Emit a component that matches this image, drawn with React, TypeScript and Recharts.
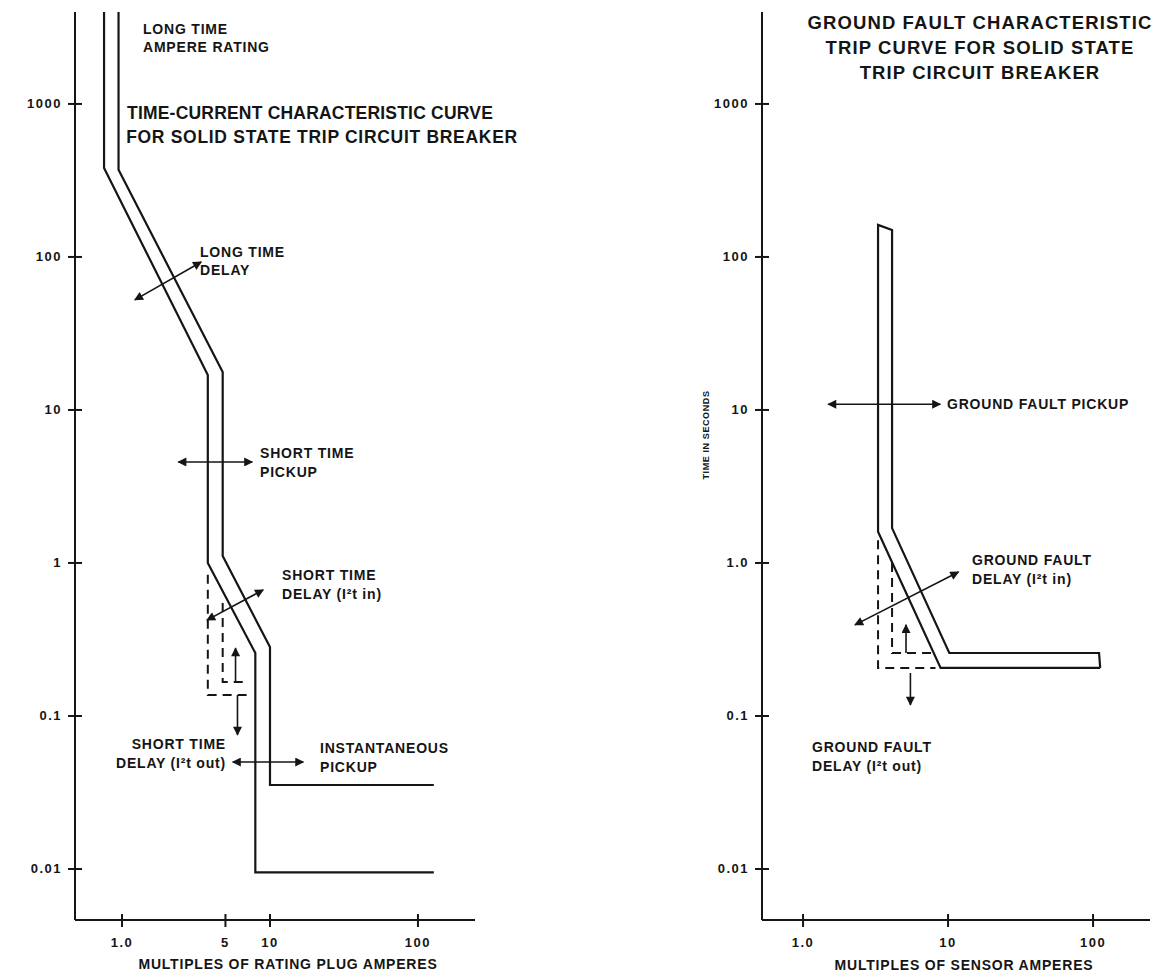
import React from "react";
import { LineChart, Line, XAxis, YAxis, ReferenceLine } from "recharts";

// solid state trip band (x = multiples of rating plug amperes, y = seconds)
const tripMinX = [0.756, 0.756, 3.8, 3.8, 7.96, 7.96, 128];
const tripMinY = [3990, 382, 16.9, 1.0, 0.258, 0.0095, 0.0095];
const tripMaxX = [0.947, 0.947, 4.79, 4.79, 10.0, 10.0, 128];
const tripMaxY = [3990, 371, 17.7, 1.11, 0.282, 0.0354, 0.0354];
// short time delay, I2t out (dashed)
const stOutX = [3.8, 3.8, 7.2];
const stOutY = [0.836, 0.137, 0.137];
const stOutInnerX = [4.79, 4.79, 6.7];
const stOutInnerY = [0.548, 0.167, 0.167];

// ground fault band (x = multiples of sensor amperes), drawn as one closed outline
const gfBandX = [112, 8.88, 3.29, 3.29, 4.11, 4.11, 10.2, 110, 112];
const gfBandY = [0.206, 0.206, 1.6, 162, 150, 1.69, 0.258, 0.258, 0.206];
const gfOutX = [3.29, 3.29, 8.19];
const gfOutY = [1.41, 0.206, 0.206];
const gfOutInnerX = [4.11, 4.11, 7.64];
const gfOutInnerY = [1.0, 0.258, 0.258];

const timeTicks = [0.01, 0.1, 1, 10, 100, 1000];
const leftTimeLabels = ["0.01", "0.1", "1", "10", "100", "1000"];
const rightTimeLabels = ["0.01", "0.1", "1.0", "10", "100", "1000"];
const plugTicks = [1, 5, 10, 100];
const plugLabels = ["1.0", "5", "10", "100"];
const sensorTicks = [1, 10, 100];
const sensorLabels = ["1.0", "10", "100"];

// annotation arrows [x1, y1, x2, y2, doubleHeaded]
const leftArrows: [number, number, number, number, boolean][] = [
  [1.22, 52.4, 3.43, 92.7, true],
  [2.4, 4.57, 7.59, 4.57, true],
  [3.75, 0.423, 9.0, 0.667, true],
  [5.85, 0.167, 5.85, 0.278, false],
  [6.03, 0.137, 6.03, 0.0752, false],
  [5.6, 0.05, 16.8, 0.05, true],
];
const rightArrows: [number, number, number, number, boolean][] = [
  [1.49, 10.9, 8.84, 10.9, true],
  [2.28, 0.394, 11.8, 0.873, true],
  [5.13, 0.258, 5.13, 0.394, false],
  [5.5, 0.191, 5.5, 0.118, false],
];

const zip = (xs: number[], ys: number[]) => xs.map((x, i) => ({ x, y: ys[i] }));

const font = '"Liberation Sans", Arial, Helvetica, sans-serif';
const ink = "#151515";
const yDomain = [0.00464, 3990];

const XTick = ({ x, y, payload, ticks, labels }: any) => {
  const label = labels[ticks.indexOf(payload.value)];
  return (
    <g>
      <line x1={x} x2={x} y1={y - 6} y2={y + 7} stroke={ink} strokeWidth={2} />
      <text x={x} y={y + 22} textAnchor="middle" dominantBaseline="central" fontFamily={font} fontWeight={700} fontSize={13} letterSpacing={1.5} fill={ink}>
        {label}
      </text>
    </g>
  );
};

const YTick = ({ x, y, payload, labels }: any) => {
  const label = labels[timeTicks.indexOf(payload.value)];
  return (
    <g>
      <line x1={x - 7} x2={x + 7} y1={y} y2={y} stroke={ink} strokeWidth={2} />
      <text x={x - 13} y={y} textAnchor="end" dominantBaseline="central" fontFamily={font} fontWeight={700} fontSize={13} letterSpacing={1.5} fill={ink}>
        {label}
      </text>
    </g>
  );
};

const Note = ({ x, y, lines, align = "left", size = 14, spacing = 0.8, weight = 700, lh = 19 }: any) => {
  const tx = align === "center" ? "translateX(-50%)" : align === "right" ? "translateX(-100%)" : "none";
  return (
    <div
      style={{
        position: "absolute",
        left: x,
        top: y - lh / 2,
        transform: tx,
        textAlign: align,
        fontFamily: font,
        fontWeight: weight,
        fontSize: size,
        letterSpacing: spacing,
        lineHeight: `${lh}px`,
        whiteSpace: "nowrap",
        color: ink,
      }}
    >
      {lines.map((l: string, i: number) => (
        <div key={i}>{l}</div>
      ))}
    </div>
  );
};

const TripChart = ({ left, width, margin, xDomain, xTicks, xLabels, yLabels, solid, dashed, arrows }: any) => (
  <div style={{ position: "absolute", left, top: 0 }}>
    <LineChart width={width} height={975} margin={margin}>
      <XAxis
        dataKey="x"
        type="number"
        scale="log"
        domain={xDomain}
        allowDataOverflow
        ticks={xTicks}
        interval={0}
        tickSize={0}
        tickMargin={0}
        tickLine={false}
        height={30}
        axisLine={{ stroke: ink, strokeWidth: 2 }}
        tick={(p: any) => <XTick {...p} ticks={xTicks} labels={xLabels} />}
      />
      <YAxis
        dataKey="y"
        type="number"
        scale="log"
        domain={yDomain}
        allowDataOverflow
        ticks={timeTicks}
        interval={0}
        tickSize={0}
        tickMargin={0}
        tickLine={false}
        width={60}
        axisLine={{ stroke: ink, strokeWidth: 2 }}
        tick={(p: any) => <YTick {...p} labels={yLabels} />}
      />
      {solid.map((pts: any, i: number) => (
        <Line key={`s${i}`} data={pts} dataKey="y" type="linear" stroke={ink} strokeWidth={2.2} dot={false} activeDot={false} isAnimationActive={false} />
      ))}
      {dashed.map((pts: any, i: number) => (
        <Line key={`d${i}`} data={pts} dataKey="y" type="linear" stroke={ink} strokeWidth={2} strokeDasharray="9 6" dot={false} activeDot={false} isAnimationActive={false} />
      ))}
      {arrows.map((a: any, i: number) => (
        <ReferenceLine
          key={`a${i}`}
          segment={[{ x: a[0], y: a[1] }, { x: a[2], y: a[3] }]}
          stroke={ink}
          strokeWidth={1.6}
          markerEnd="url(#ah)"
          markerStart={a[4] ? "url(#ah)" : undefined}
          ifOverflow="visible"
        />
      ))}
    </LineChart>
  </div>
);

export default function App() {
  return (
    <div style={{ position: "absolute", left: 0, top: 0, width: 1163, height: 975, background: "#fff", overflow: "hidden" }}>
      <svg width="0" height="0" style={{ position: "absolute" }}>
        <defs>
          <marker id="ah" viewBox="0 0 10 10" refX="9" refY="5" markerWidth="12" markerHeight="9" markerUnits="userSpaceOnUse" orient="auto-start-reverse">
            <path d="M0,0 L10,5 L0,10 z" fill={ink} />
          </marker>
        </defs>
      </svg>

      <TripChart
        left={0}
        width={500}
        margin={{ top: 12, right: 25, bottom: 25, left: 15 }}
        xDomain={[0.481, 243]}
        xTicks={plugTicks}
        xLabels={plugLabels}
        yLabels={leftTimeLabels}
        solid={[zip(tripMinX, tripMinY), zip(tripMaxX, tripMaxY)]}
        dashed={[zip(stOutX, stOutY), zip(stOutInnerX, stOutInnerY)]}
        arrows={leftArrows}
      />
      <TripChart
        left={680}
        width={480}
        margin={{ top: 12, right: 10, bottom: 25, left: 22 }}
        xDomain={[0.521, 247]}
        xTicks={sensorTicks}
        xLabels={sensorLabels}
        yLabels={rightTimeLabels}
        solid={[zip(gfBandX, gfBandY)]}
        dashed={[zip(gfOutX, gfOutY), zip(gfOutInnerX, gfOutInnerY)]}
        arrows={rightArrows}
      />

      {/* left panel text */}
      <Note x={143} y={29} lines={["LONG TIME", "AMPERE RATING"]} lh={18} />
      <Note x={310} y={113} lines={["TIME-CURRENT CHARACTERISTIC CURVE"]} align="center" size={17.5} spacing={0.2} lh={22} />
      <Note x={322} y={137} lines={["FOR SOLID STATE TRIP CIRCUIT BREAKER"]} align="center" size={17.5} spacing={0.7} lh={22} />
      <Note x={200} y={252} lines={["LONG TIME", "DELAY"]} lh={18} />
      <Note x={260} y={453} lines={["SHORT TIME", "PICKUP"]} />
      <Note x={226} y={744} lines={["SHORT TIME", "DELAY (I²t out)"]} align="right" />
      <Note x={282} y={575} lines={["SHORT TIME", "DELAY (I²t in)"]} />
      <Note x={320} y={748} lines={["INSTANTANEOUS", "PICKUP"]} />
      <Note x={288} y={964} lines={["MULTIPLES OF RATING PLUG AMPERES"]} align="center" />

      {/* right panel text */}
      <Note x={980} y={22} lines={["GROUND FAULT CHARACTERISTIC", "TRIP CURVE FOR SOLID STATE", "TRIP CIRCUIT BREAKER"]} align="center" size={18.5} spacing={1.1} lh={25} />
      <Note x={947} y={404} lines={["GROUND FAULT PICKUP"]} />
      <Note x={972} y={560} lines={["GROUND FAULT", "DELAY (I²t in)"]} />
      <Note x={812} y={747} lines={["GROUND FAULT", "DELAY (I²t out)"]} />
      <Note x={964} y={965} lines={["MULTIPLES OF SENSOR AMPERES"]} align="center" />
      <div
        style={{
          position: "absolute",
          left: 706,
          top: 435,
          transform: "translate(-50%, -50%) rotate(-90deg)",
          fontFamily: font,
          fontWeight: 700,
          fontSize: 9,
          letterSpacing: 0.6,
          whiteSpace: "nowrap",
          color: ink,
        }}
      >
        TIME IN SECONDS
      </div>
    </div>
  );
}
